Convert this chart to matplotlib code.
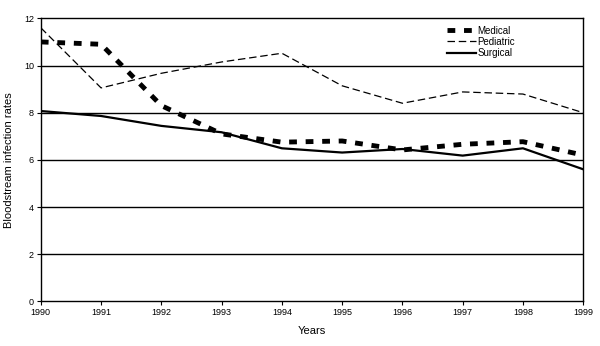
import matplotlib
matplotlib.use("Agg")
import matplotlib.pyplot as plt

# Data
years = [1990, 1991, 1992, 1993, 1994, 1995, 1996, 1997, 1998, 1999]
medical = [11.0, 10.9, 8.3, 7.1, 6.75, 6.8, 6.42, 6.66, 6.77, 6.2]
pediatric = [11.6, 9.05, 9.67, 10.15, 10.52, 9.14, 8.4, 8.88, 8.79, 8.0]
surgical = [8.07, 7.86, 7.44, 7.17, 6.49, 6.31, 6.46, 6.18, 6.49, 5.6]
yticks = [0, 2, 4, 6, 8, 10, 12]

plt.rcParams['font.family'] = ['Liberation Sans', 'DejaVu Sans']

fig = plt.figure(figsize=(6, 3.46), dpi=100)
ax = fig.add_axes([0.068, 0.129, 0.904, 0.818])

for y in yticks[1:-1]:
    ax.axhline(y, color="black", linewidth=1.0, zorder=1)

ax.plot(years, medical, color="black", linewidth=3.5, linestyle=(0, (1.6, 1.8)),
        label="Medical", zorder=3)
ax.plot(years, pediatric, color="black", linewidth=0.9, linestyle=(0, (6, 3)),
        label="Pediatric", zorder=3)
ax.plot(years, surgical, color="black", linewidth=1.6, label="Surgical", zorder=3)

ax.set_xlim(1990, 1999)
ax.set_ylim(0, 12)
ax.set_xticks(years)
ax.set_xticklabels([str(y) for y in years], fontsize=6.5)
ax.set_yticks(yticks)
ax.set_yticklabels([str(y) for y in yticks], fontsize=6.5)
ax.tick_params(direction="out", length=3, width=0.8, pad=2)
for s in ax.spines.values():
    s.set_linewidth(1.0)

ax.set_xlabel("Years", fontsize=8, labelpad=6)
ax.set_ylabel("Bloodstream infection rates", fontsize=8, labelpad=7)

leg = ax.legend(loc="upper right", bbox_to_anchor=(0.89, 1.005), frameon=False,
                fontsize=7, handlelength=3.0, handletextpad=0.15,
                labelspacing=0.12)

fig.savefig("out.png", dpi=100)
